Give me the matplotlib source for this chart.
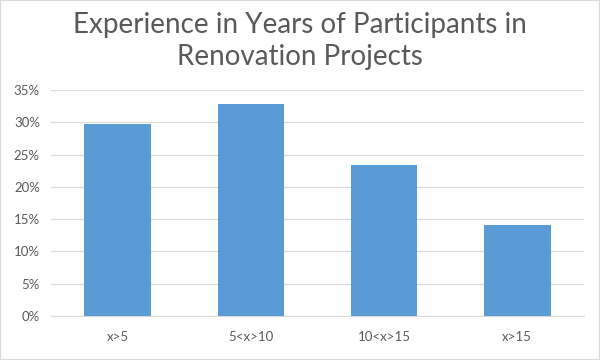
import matplotlib
matplotlib.use("Agg")
import matplotlib.pyplot as plt
from matplotlib.ticker import PercentFormatter
from matplotlib.patches import Rectangle

categories = ["x>5", "5<x>10", "10<x>15", "x>15"]
shares = [0.297, 0.328, 0.234, 0.141]
yticks = [0, 0.05, 0.10, 0.15, 0.20, 0.25, 0.30, 0.35]

plt.rcParams['font.family'] = ['Lato', 'DejaVu Sans']
grey = "#595959"

fig = plt.figure(figsize=(6, 3.6), dpi=100)
ax = fig.add_axes([0.085, 0.122, 0.888, 0.628])

ax.bar(range(len(categories)), shares, width=0.5, color="#5B9BD5", zorder=3)
ax.set_xlim(-0.5, len(categories) - 0.5)
ax.set_ylim(0, 0.35)
ax.set_yticks(yticks)
ax.yaxis.set_major_formatter(PercentFormatter(1.0, decimals=0))
ax.set_xticks(range(len(categories)))
ax.set_xticklabels(categories)

ax.grid(axis="y", color="#D9D9D9", linewidth=0.9, zorder=0)
for s in ["top", "right", "left"]:
    ax.spines[s].set_visible(False)
ax.spines["bottom"].set_color("#D9D9D9")
ax.tick_params(axis="both", length=0, colors=grey, labelsize=9.5)
ax.tick_params(axis="x", pad=11)
ax.tick_params(axis="y", pad=8)

fig.text(0.5, 0.968, "Experience in Years of Participants in\nRenovation Projects",
         ha="center", va="top", fontsize=20, color=grey, linespacing=1.3)

fig.patches.append(Rectangle((0, 0), 1, 1, transform=fig.transFigure, fill=False,
                             edgecolor="#D9D9D9", linewidth=1.5))

fig.savefig("out.png", dpi=100)
